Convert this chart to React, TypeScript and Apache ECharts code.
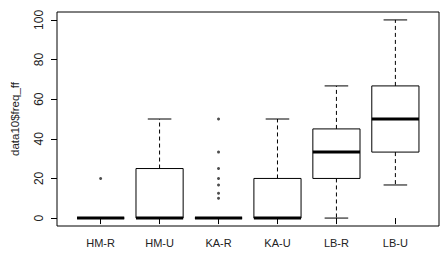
import React, { useEffect, useRef } from "react";
import * as echarts from "echarts";

const categories = ["HM-R", "HM-U", "KA-R", "KA-U", "LB-R", "LB-U"];
// [lowerWhisker, Q1, median, Q3, upperWhisker]
const boxStats = [
  [0, 0, 0, 0, 0],
  [0, 0, 0, 25, 50],
  [0, 0, 0, 0, 0],
  [0, 0, 0, 20, 50],
  [0, 20, 33.3, 45, 66.7],
  [16.7, 33.3, 50, 66.7, 100],
];
// [categoryIndex (0-based), value]
const outliers = [
  [0, 20],
  [2, 50],
  [2, 33.3],
  [2, 25],
  [2, 20],
  [2, 16.7],
  [2, 12.5],
  [2, 10],
];
const yTicks = [0, 20, 40, 60, 80, 100];
const yAxisTitle = "data10$freq_ff";

const FONT = "Liberation Sans, Arial, sans-serif";

export default function App() {
  const ref = useRef<HTMLDivElement>(null);

  useEffect(() => {
    if (!ref.current) return;
    const chart = echarts.init(ref.current, undefined, { renderer: "svg" });
    const xTicks = categories.map((_, i) => i + 1);

    const boxData = boxStats.map((s, i) => [i + 1, ...s]);
    const outData = outliers.map(([i, v]) => [i + 1, v]);

    const renderItem = (params: any, api: any) => {
      const x = api.value(0);
      const lo = api.coord([x, api.value(1)]);
      const q1 = api.coord([x, api.value(2)]);
      const med = api.coord([x, api.value(3)]);
      const q3 = api.coord([x, api.value(4)]);
      const hi = api.coord([x, api.value(5)]);
      const bw = api.size([0.8, 0])[0];
      const cw = bw / 2;
      const cx = lo[0];
      const stroke = "#000";
      const children: any[] = [];
      children.push({
        type: "line",
        shape: { x1: cx, y1: q3[1], x2: cx, y2: hi[1] },
        style: { stroke, lineWidth: 1, lineDash: [4, 3] },
      });
      children.push({
        type: "line",
        shape: { x1: cx, y1: q1[1], x2: cx, y2: lo[1] },
        style: { stroke, lineWidth: 1, lineDash: [4, 3] },
      });
      children.push({
        type: "line",
        shape: { x1: cx - cw / 2, y1: hi[1], x2: cx + cw / 2, y2: hi[1] },
        style: { stroke, lineWidth: 1 },
      });
      children.push({
        type: "line",
        shape: { x1: cx - cw / 2, y1: lo[1], x2: cx + cw / 2, y2: lo[1] },
        style: { stroke, lineWidth: 1 },
      });
      children.push({
        type: "rect",
        shape: { x: cx - bw / 2, y: q3[1], width: bw, height: q1[1] - q3[1] },
        style: { stroke, fill: "#fff", lineWidth: 1 },
      });
      children.push({
        type: "line",
        shape: { x1: cx - bw / 2, y1: med[1], x2: cx + bw / 2, y2: med[1] },
        style: { stroke, lineWidth: 3 },
      });
      return { type: "group", children };
    };

    chart.setOption({
      animation: false,
      backgroundColor: "#fff",
      grid: {
        left: 57,
        right: 2,
        top: 12,
        bottom: 29,
        show: true,
        borderColor: "#000",
        borderWidth: 1,
        backgroundColor: "transparent",
      },
      xAxis: {
        type: "value",
        min: 0.26,
        max: 6.74,
        axisLine: { show: false },
        splitLine: { show: false },
        axisTick: {
          show: true,
          customValues: xTicks,
          length: 6,
          lineStyle: { color: "#000" },
        },
        axisLabel: {
          customValues: xTicks,
          formatter: (v: number) => categories[Math.round(v) - 1] ?? "",
          margin: 11,
          fontSize: 11,
          fontFamily: FONT,
          color: "#222",
        },
      },
      yAxis: {
        type: "value",
        min: -4,
        max: 104,
        name: yAxisTitle,
        nameLocation: "middle",
        nameGap: 36,
        nameTextStyle: { fontSize: 11.5, fontFamily: FONT, color: "#222" },
        axisLine: { show: false },
        splitLine: { show: false },
        axisTick: {
          show: true,
          customValues: yTicks,
          length: 6,
          lineStyle: { color: "#000" },
        },
        axisLabel: {
          customValues: yTicks,
          rotate: 90,
          margin: 12,
          fontSize: 12,
          fontFamily: FONT,
          color: "#222",
        },
      },
      series: [
        {
          type: "custom",
          renderItem,
          data: boxData,
          encode: { x: 0, y: [1, 2, 3, 4, 5] },
          z: 2,
        },
        {
          type: "scatter",
          data: outData,
          symbol: "circle",
          symbolSize: 3,
          itemStyle: { color: "#222" },
          z: 3,
        },
      ],
    });

    return () => chart.dispose();
  }, []);

  return (
    <div
      ref={ref}
      style={{ position: "absolute", left: 0, top: 0, width: 441, height: 255 }}
    />
  );
}
